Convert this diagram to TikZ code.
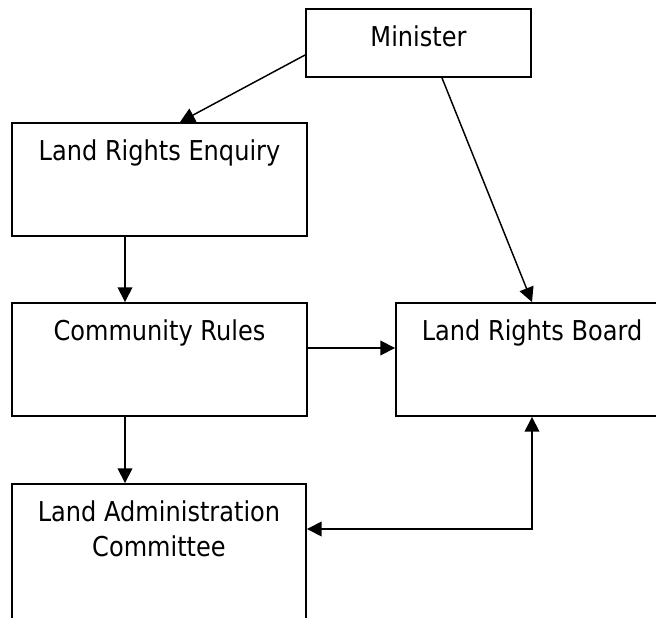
\documentclass[tikz,border=0pt]{standalone}
\usepackage{fontspec}
\setmainfont{DejaVu Sans}[FakeStretch=0.88]
\usetikzlibrary{arrows.meta,calc}

\begin{document}
\begin{tikzpicture}[
  x=0.75pt, y=-0.75pt,
  every node/.style={font=\fontsize{20.5}{26}\selectfont},
  box/.style={draw, line width=1.4pt, inner sep=0pt},
  lbl/.style={anchor=base, inner sep=0pt, align=center},
  arrow/.style={-{Triangle[length=11pt,width=11pt]}, line width=1.1pt}
]
  \useasboundingbox (0,0) rectangle (656,617);
  \clip (0,0) rectangle (656,617);

  \node[box, minimum width=168.75pt, minimum height=51pt]
        (min) at (418.5,43)  {};
  \node[box, minimum width=221.25pt, minimum height=84.75pt]
        (enq) at (159.5,179.5) {};
  \node[box, minimum width=221.25pt, minimum height=84.75pt]
        (com) at (159.5,359.5) {};
  \node[box, minimum width=204pt, minimum height=84.75pt]
        (brd) at (532,359.5) {};
  \node[box, minimum width=220.5pt, minimum height=117pt]
        (lac) at (159,562) {};

  \node[lbl] (mintxt) at ($(min.north)+(0,38)$) {Minister};
  \node[lbl] (enqtxt) at ($(enq.north)+(0,38)$) {Land Rights Enquiry};
  \node[lbl] (comtxt) at ($(com.north)+(0,38.5)$) {Community Rules};
  \node[lbl] (brdtxt) at ($(brd.north)+(0,38.5)$) {Land Rights Board};
  \node[lbl] (lactxt) at ($(lac.north)+(0,73)$) {Land Administration\\Committee};

  \draw[arrow] ($(min.west)+(0,12)$) -- ($(enq.north)+(20.5,0)$);
  \draw[arrow] ($(min.south)+(23.5,0)$) -- (brd.north);
  \draw[arrow] ($(enq.south)+(-34.5,0)$) -- ($(com.north)+(-34.5,0)$);
  \draw[arrow] ($(com.south)+(-34.5,0)$) -- ($(lac.north)+(-34,0)$);
  \draw[arrow] ($(com.east)+(0,-11.5)$) -- ($(brd.west)+(0,-11.5)$);
  \draw[arrow, {Triangle[length=11pt,width=11pt]}-{Triangle[length=11pt,width=11pt]}]
        (brd.south) |- ($(lac.east)+(0,-33)$);
\end{tikzpicture}
\end{document}
